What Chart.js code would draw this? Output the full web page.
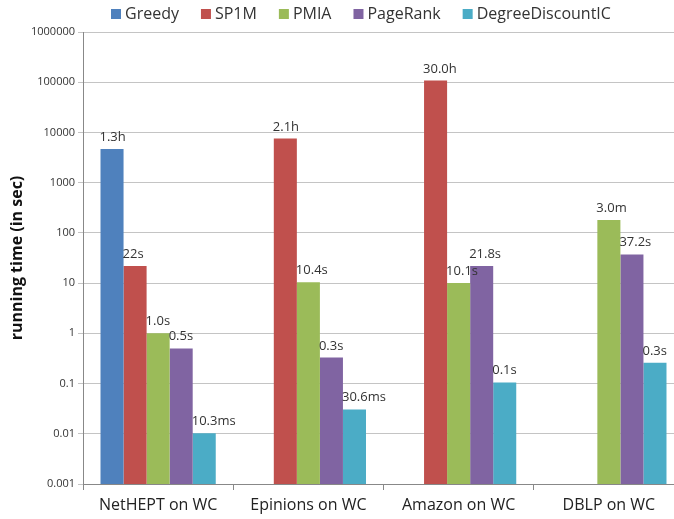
<!DOCTYPE html>
<html>
<head>
<meta charset="utf-8">
<script src="https://cdn.jsdelivr.net/npm/chart.js@4/dist/chart.umd.min.js"></script>
<style>
  html, body { margin: 0; padding: 0; background: #ffffff; overflow: hidden; }
  #wrap { width: 674px; height: 519px; position: relative; overflow: hidden; }
</style>
</head>
<body>
<div id="wrap"><canvas id="c" width="684" height="519"></canvas></div>
<script>
// ---- data ----
const categories = ["NetHEPT on WC", "Epinions on WC", "Amazon on WC", "DBLP on WC"];
const seriesNames = ["Greedy", "SP1M", "PMIA", "PageRank", "DegreeDiscountIC"];
const greedy = [4680, null, null, null];
const sp1m = [22, 7560, 108000, null];
const pmia = [1.0, 10.4, 10.1, 180];
const pageRank = [0.5, 0.33, 21.8, 37.2];
const degreeDiscountIC = [0.0103, 0.0306, 0.105, 0.26];
const greedyLabels = ["1.3h", "", "", ""];
const sp1mLabels = ["22s", "2.1h", "30.0h", ""];
const pmiaLabels = ["1.0s", "10.4s", "10.1s", "3.0m"];
const pageRankLabels = ["0.5s", "0.3s", "21.8s", "37.2s"];
const degreeDiscountICLabels = ["10.3ms", "30.6ms", "0.1s", "0.3s"];
const yTickValues = [0.001, 0.01, 0.1, 1, 10, 100, 1000, 10000, 100000, 1000000];
const yTickLabels = ["0.001", "0.01", "0.1", "1", "10", "100", "1000", "10000", "100000", "1000000"];
const colors = ["#4F81BD", "#C0504D", "#9BBB59", "#8064A2", "#4BACC6"];

const seriesValues = [greedy, sp1m, pmia, pageRank, degreeDiscountIC];
const seriesLabels = [greedyLabels, sp1mLabels, pmiaLabels, pageRankLabels, degreeDiscountICLabels];

const FONT = '"Open Sans", sans-serif';

const labelPlugin = {
  id: 'barLabels',
  afterDatasetsDraw(chart) {
    const ctx = chart.ctx;
    ctx.save();
    ctx.font = '13px ' + FONT;
    ctx.fillStyle = '#333333';
    ctx.textAlign = 'left';
    ctx.textBaseline = 'alphabetic';
    chart.data.datasets.forEach((ds, di) => {
      const meta = chart.getDatasetMeta(di);
      meta.data.forEach((el, i) => {
        if (ds.data[i] == null) return;
        const txt = seriesLabels[di][i];
        if (!txt) return;
        ctx.fillText(txt, el.x - el.width / 2 - 1, el.y - 8);
      });
    });
    ctx.restore();
  }
};

const legendPlugin = {
  id: 'customLegend',
  afterDraw(chart) {
    const ctx = chart.ctx;
    ctx.save();
    ctx.font = '16px ' + FONT;
    ctx.textBaseline = 'middle';
    ctx.textAlign = 'left';
    const box = 10, gapBoxText = 4, gapItems = 22;
    let x = 111;
    const cy = 14;
    chart.data.datasets.forEach(ds => {
      const w = ctx.measureText(ds.label).width;
      ctx.fillStyle = ds.backgroundColor;
      ctx.fillRect(x, cy - box / 2, box, box);
      x += box + gapBoxText;
      ctx.fillStyle = '#333333';
      ctx.fillText(ds.label, x, cy);
      x += w + gapItems;
    });
    ctx.restore();
  }
};

new Chart(document.getElementById('c'), {
  type: 'bar',
  data: {
    labels: categories,
    datasets: seriesNames.map((n, i) => ({
      label: n,
      data: seriesValues[i],
      backgroundColor: colors[i],
      borderWidth: 0,
      barPercentage: 1.0,
      categoryPercentage: 0.767
    }))
  },
  options: {
    responsive: false,
    animation: false,
    layout: { padding: { top: 32, right: 0, left: 0, bottom: 0 } },
    plugins: {
      legend: { display: false },
      tooltip: { enabled: false }
    },
    scales: {
      x: {
        grid: { display: true, drawOnChartArea: false, drawTicks: true, tickLength: 6, color: '#888888', offset: true },
        border: { color: '#888888', width: 1 },
        ticks: { color: '#222222', font: { family: FONT, size: 16 }, padding: 6 },
        afterFit(scale) { scale.height = 35; }
      },
      y: {
        type: 'logarithmic',
        min: 0.001,
        max: 1000000,
        afterBuildTicks(scale) { scale.ticks = yTickValues.map(v => ({ value: v })); },
        grid: { color: '#c4c4c4', tickLength: 5, drawTicks: true },
        border: { color: '#888888', width: 1 },
        ticks: {
          color: '#333333',
          font: { family: FONT, size: 11 },
          padding: 3,
          callback: (v) => { const k = yTickValues.indexOf(v); return k >= 0 ? yTickLabels[k] : ''; }
        },
        title: {
          display: true,
          text: 'running time (in sec)',
          color: '#111111',
          font: { family: FONT, size: 16, weight: 'bold' },
          padding: { top: 8, bottom: 0 }
        },
        afterFit(scale) { scale.width = 83; }
      }
    }
  },
  plugins: [labelPlugin, legendPlugin]
});
</script>
</body>
</html>
